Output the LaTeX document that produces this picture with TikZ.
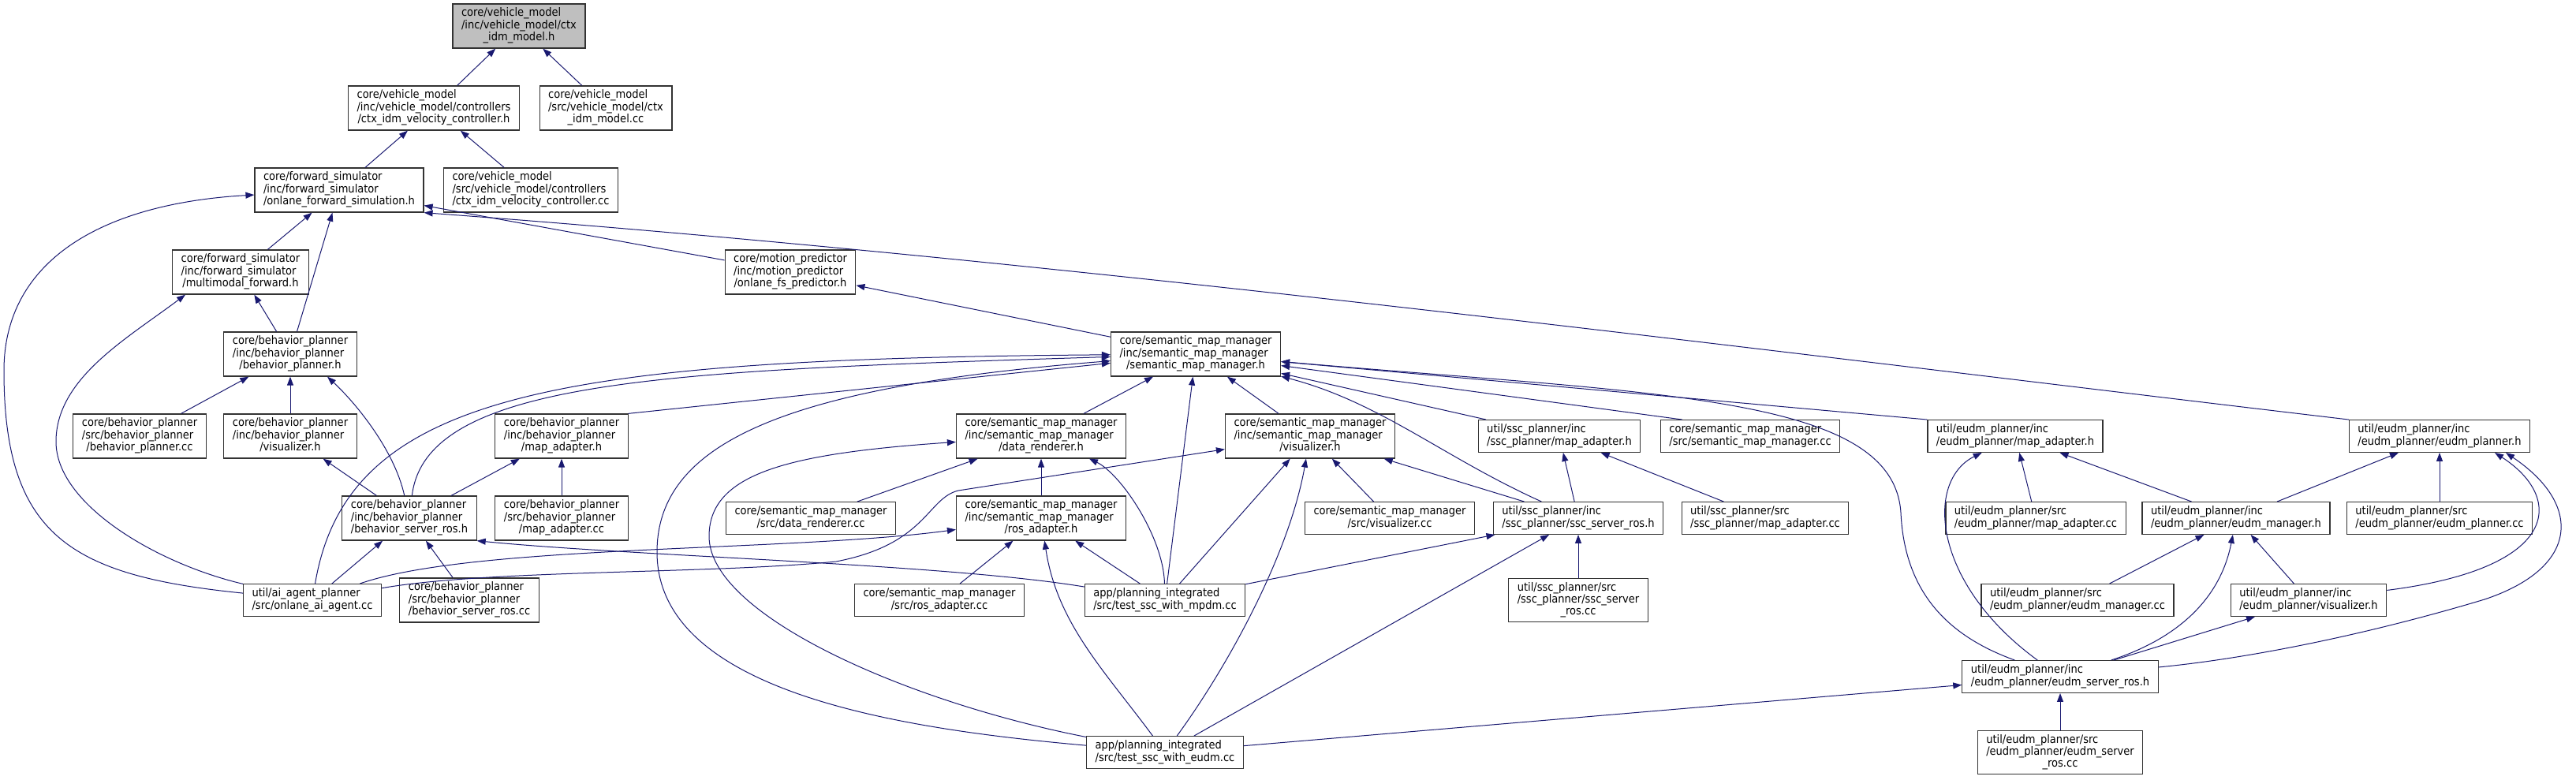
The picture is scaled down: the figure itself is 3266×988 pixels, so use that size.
\documentclass[tikz,border=0pt]{standalone}
\usepackage{fontspec}
\setmainfont{DejaVu Sans Condensed}
\usetikzlibrary{arrows.meta}

\definecolor{edgeblue}{HTML}{191970}
\definecolor{rootgray}{HTML}{BFBFBF}

% file label: first lines left, last line centred
\newcommand{\flab}[2]{\begin{tabular}{@{}l@{}}#1\\\multicolumn{1}{@{}c@{}}{#2}\end{tabular}}

\begin{document}
\begin{tikzpicture}[
    x=1pt, y=-1pt,
    file/.style={draw=black!80, line width=1.2pt, fill=white, inner xsep=11pt, inner ysep=5pt,
                 font=\fontsize{14.5}{14.5}\selectfont},
    root/.style={file, fill=rootgray},
    dep/.style={draw=edgeblue, line width=1pt, {Triangle[length=11pt, width=8pt]}-},
]
\useasboundingbox (0,0) rectangle (3266,988);

% Level 0 (root)
\node[root] (root) at (658,33) {\flab{core/vehicle\_model\\/inc/vehicle\_model/ctx}{\_idm\_model.h}};

% Level 1
\node[file] (ctrlh) at (550,137) {\flab{core/vehicle\_model\\/inc/vehicle\_model/controllers}{/ctx\_idm\_velocity\_controller.h}};
\node[file] (ctxcc) at (768,137) {\flab{core/vehicle\_model\\/src/vehicle\_model/ctx}{\_idm\_model.cc}};

% Level 2
\node[file] (fwdsim) at (430,241) {\flab{core/forward\_simulator\\/inc/forward\_simulator}{/onlane\_forward\_simulation.h}};
\node[file] (ctrlcc) at (673,241) {\flab{core/vehicle\_model\\/src/vehicle\_model/controllers}{/ctx\_idm\_velocity\_controller.cc}};

% Level 3
\node[file] (multi) at (305,345) {\flab{core/forward\_simulator\\/inc/forward\_simulator}{/multimodal\_forward.h}};
\node[file] (mpred) at (1002,345) {\flab{core/motion\_predictor\\/inc/motion\_predictor}{/onlane\_fs\_predictor.h}};

% Level 4
\node[file] (bph) at (368,449) {\flab{core/behavior\_planner\\/inc/behavior\_planner}{/behavior\_planner.h}};
\node[file] (smmh) at (1516,449) {\flab{core/semantic\_map\_manager\\/inc/semantic\_map\_manager}{/semantic\_map\_manager.h}};

% Level 5
\node[file] (bpcc) at (177,553) {\flab{core/behavior\_planner\\/src/behavior\_planner}{/behavior\_planner.cc}};
\node[file] (bpvis) at (368,553) {\flab{core/behavior\_planner\\/inc/behavior\_planner}{/visualizer.h}};
\node[file] (bpmap) at (712,553) {\flab{core/behavior\_planner\\/inc/behavior\_planner}{/map\_adapter.h}};
\node[file] (smmdr) at (1320,553) {\flab{core/semantic\_map\_manager\\/inc/semantic\_map\_manager}{/data\_renderer.h}};
\node[file] (smmvis) at (1661,553) {\flab{core/semantic\_map\_manager\\/inc/semantic\_map\_manager}{/visualizer.h}};
\node[file] (sscmap) at (1977,553) {\flab{util/ssc\_planner/inc}{/ssc\_planner/map\_adapter.h}};
\node[file] (smmcc) at (2219,553) {\flab{core/semantic\_map\_manager}{/src/semantic\_map\_manager.cc}};
\node[file] (eudmmap) at (2555,553) {\flab{util/eudm\_planner/inc}{/eudm\_planner/map\_adapter.h}};
\node[file] (eudmpl) at (3093,553) {\flab{util/eudm\_planner/inc}{/eudm\_planner/eudm\_planner.h}};

% Level 6
\node[file] (bpros) at (519,657) {\flab{core/behavior\_planner\\/inc/behavior\_planner}{/behavior\_server\_ros.h}};
\node[file] (bpmapcc) at (712,657) {\flab{core/behavior\_planner\\/src/behavior\_planner}{/map\_adapter.cc}};
\node[file] (smmdrcc) at (1028,657) {\flab{core/semantic\_map\_manager}{/src/data\_renderer.cc}};
\node[file] (smmros) at (1320,657) {\flab{core/semantic\_map\_manager\\/inc/semantic\_map\_manager}{/ros\_adapter.h}};
\node[file] (smmviscc) at (1762,657) {\flab{core/semantic\_map\_manager}{/src/visualizer.cc}};
\node[file] (sscros) at (2001,657) {\flab{util/ssc\_planner/inc}{/ssc\_planner/ssc\_server\_ros.h}};
\node[file] (sscmapcc) at (2238,657) {\flab{util/ssc\_planner/src}{/ssc\_planner/map\_adapter.cc}};
\node[file] (eudmmapcc) at (2581,657) {\flab{util/eudm\_planner/src}{/eudm\_planner/map\_adapter.cc}};
\node[file] (eudmmgr) at (2835,657) {\flab{util/eudm\_planner/inc}{/eudm\_planner/eudm\_manager.h}};
\node[file] (eudmplcc) at (3093,657) {\flab{util/eudm\_planner/src}{/eudm\_planner/eudm\_planner.cc}};

% Level 7
\node[file] (aiagent) at (396,761) {\flab{util/ai\_agent\_planner}{/src/onlane\_ai\_agent.cc}};
\node[file] (bproscc) at (595,761) {\flab{core/behavior\_planner\\/src/behavior\_planner}{/behavior\_server\_ros.cc}};
\node[file] (smmroscc) at (1191,761) {\flab{core/semantic\_map\_manager}{/src/ros\_adapter.cc}};
\node[file] (mpdm) at (1477,761) {\flab{app/planning\_integrated}{/src/test\_ssc\_with\_mpdm.cc}};
\node[file] (sscroscc) at (2001,761) {\flab{util/ssc\_planner/src\\/ssc\_planner/ssc\_server}{\_ros.cc}};
\node[file] (eudmmgrcc) at (2634,761) {\flab{util/eudm\_planner/src}{/eudm\_planner/eudm\_manager.cc}};
\node[file] (eudmvis) at (2927,761) {\flab{util/eudm\_planner/inc}{/eudm\_planner/visualizer.h}};

% Levels 8 and 9
\node[file] (eudmros) at (2612,858) {\flab{util/eudm\_planner/inc}{/eudm\_planner/eudm\_server\_ros.h}};
\node[file] (eudmapp) at (1477,954) {\flab{app/planning\_integrated}{/src/test\_ssc\_with\_eudm.cc}};
\node[file] (eudmroscc) at (2612,954) {\flab{util/eudm\_planner/src\\/eudm\_planner/eudm\_server}{\_ros.cc}};

% vehicle model
\draw[dep] (root) -- (ctrlh);
\draw[dep] (root) -- (ctxcc);
\draw[dep] (ctrlh) -- (fwdsim);
\draw[dep] (ctrlh) -- (ctrlcc);

% forward simulator
\draw[dep] (fwdsim) -- (multi);
\draw[dep] (fwdsim) -- (bph);
\draw[dep] (fwdsim) -- (mpred);
\draw[dep] (fwdsim.south east) .. controls (1350,330) and (2200,440) .. (eudmpl.north west);
\draw[dep] (fwdsim) .. controls (130,258) and (5,330) .. (5,470) .. controls (5,680) and (90,730) .. (aiagent);
\draw[dep] (multi) -- (bph);
\draw[dep] ([xshift=-70pt]multi.south) .. controls (160,430) and (71,480) .. (71,560) .. controls (71,640) and (200,715) .. (aiagent);

% behavior planner
\draw[dep] (bph) -- (bpcc);
\draw[dep] (bph) -- (bpvis);
\draw[dep] ([xshift=47pt]bph.south) .. controls (450,510) and (500,570) .. (bpros);
\draw[dep] (bpvis) -- (bpros);
\draw[dep] (bpmap) -- (bpros);
\draw[dep] (bpmap) -- (bpmapcc);
\draw[dep] (bpros) -- (aiagent);
\draw[dep] (bpros) -- (bproscc);
\draw[dep] (bpros.south east) .. controls (800,705) and (1200,715) .. (mpdm);

% semantic map manager header
\draw[dep] (mpred) -- (smmh);
\draw[dep] (smmh) -- (bpmap.north east);
\draw[dep] (smmh) .. controls (850,470) and (540,480) .. (bpros);
\draw[dep] (smmh) .. controls (700,455) and (440,500) .. (aiagent);
\draw[dep] (smmh) .. controls (1000,490) and (833,560) .. (833,700) .. controls (833,880) and (1150,925) .. (eudmapp);
\draw[dep] (smmh) -- (smmdr);
\draw[dep] (smmh) -- (mpdm);
\draw[dep] (smmh) -- (smmvis);
\draw[dep] (smmh) -- (sscmap);
\draw[dep] (smmh) -- ([xshift=28pt]smmcc.north west);
\draw[dep] (smmh) .. controls (1750,510) and (1830,580) .. (sscros);
\draw[dep] (smmh) -- (eudmmap.north west);
\draw[dep] (smmh) .. controls (2100,500) and (2400,500) .. (2410,650) .. controls (2415,760) and (2480,810) .. (eudmros);

% data renderer
\draw[dep] (smmdr) -- (smmdrcc);
\draw[dep] (smmdr) -- (smmros);
\draw[dep] (smmdr) .. controls (1420,600) and (1475,680) .. (mpdm);
\draw[dep] (smmdr) .. controls (1000,575) and (899,600) .. (899,680) .. controls (899,780) and (1150,890) .. (eudmapp);

% ros adapter
\draw[dep] (smmros) -- (smmroscc);
\draw[dep] (smmros) .. controls (1340,790) and (1400,850) .. (eudmapp);
\draw[dep] (smmros) -- (mpdm);
\draw[dep] (smmros) .. controls (1000,700) and (600,690) .. (aiagent);

% visualizer
\draw[dep] (smmvis) -- (1215,622) .. controls (1175,632) and (1175,690) .. (1060,712) .. controls (900,728) and (620,722) .. (aiagent);
\draw[dep] (smmvis) -- (smmviscc);
\draw[dep] (smmvis) -- (sscros);
\draw[dep] (smmvis) -- (mpdm);
\draw[dep] (smmvis) .. controls (1635,700) and (1560,840) .. (eudmapp);

% ssc planner
\draw[dep] (sscmap) -- (sscros);
\draw[dep] (sscmap) -- (sscmapcc);
\draw[dep] (sscros) -- (sscroscc);
\draw[dep] (sscros) -- (mpdm);
\draw[dep] (sscros) -- (eudmapp);

% eudm planner
\draw[dep] (eudmmap) -- (eudmmapcc);
\draw[dep] (eudmmap) -- (eudmmgr);
\draw[dep] (eudmmap) .. controls (2440,610) and (2450,740) .. (eudmros);
\draw[dep] (eudmpl) -- (eudmmgr);
\draw[dep] (eudmpl) -- (eudmplcc);
\draw[dep] ([xshift=70pt]eudmpl.south) .. controls (3250,630) and (3250,720) .. (eudmvis);
\draw[dep] ([xshift=84pt]eudmpl.south) .. controls (3275,640) and (3270,720) .. (3150,760) .. controls (3000,805) and (2850,835) .. (eudmros);
\draw[dep] (eudmmgr) -- (eudmmgrcc);
\draw[dep] (eudmmgr) .. controls (2815,760) and (2760,810) .. (eudmros);
\draw[dep] (eudmmgr) -- (eudmvis);
\draw[dep] (eudmvis) -- (eudmros);
\draw[dep] (eudmros) -- (eudmroscc);
\draw[dep] (eudmros) -- (eudmapp);

\end{tikzpicture}
\end{document}
